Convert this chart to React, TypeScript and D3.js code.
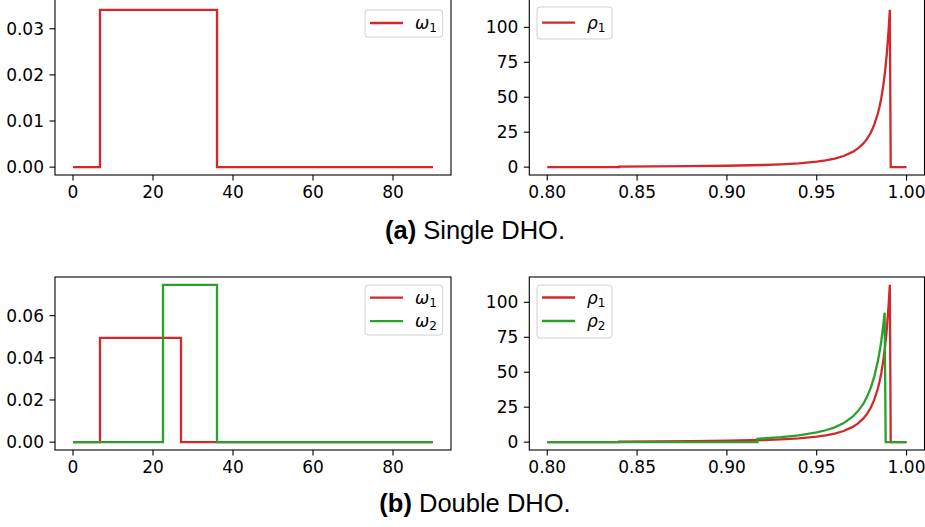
import * as React from "react";
import * as d3 from "d3";

const RED = "#d62728";
const GREEN = "#2ca02c";

// (a) Single DHO: omega step functions (value holds until next grid point)
const omegaGridSingle = [0, 6.75, 36, 90];
const omegaSingle = [0, 0.0341, 0, 0];

// (b) Double DHO
const omegaGridDouble1 = [0, 6.75, 27, 90];
const omegaDouble1 = [0, 0.0495, 0, 0];
const omegaGridDouble2 = [0, 22.5, 36, 90];
const omegaDouble2 = [0, 0.0746, 0, 0];

// rho densities
const rhoX1 = [0.8, 0.84, 0.84, 0.86, 0.88, 0.9, 0.92, 0.93, 0.94, 0.95, 0.955, 0.96, 0.965, 0.97, 0.973, 0.976, 0.978, 0.98, 0.982, 0.984, 0.985, 0.986, 0.987, 0.988, 0.989, 0.99, 0.9907, 0.9912, 1.0];
const rhoY1 = [0, 0, 0.38, 0.5, 0.68, 0.98, 1.53, 1.99, 2.71, 3.91, 4.82, 6.11, 7.98, 10.9, 13.4, 17.0, 20.2, 24.4, 30.2, 38.2, 43.4, 49.8, 57.8, 67.8, 80.7, 97.7, 112.5, 0, 0];
const rhoX2 = [0.8, 0.917, 0.917, 0.92, 0.93, 0.94, 0.95, 0.955, 0.96, 0.965, 0.97, 0.973, 0.976, 0.978, 0.98, 0.982, 0.984, 0.985, 0.986, 0.987, 0.9878, 0.9884, 1.0];
const rhoY2 = [0, 0, 2.3, 2.6, 3.6, 4.9, 6.9, 8.5, 10.6, 13.6, 18.2, 22.2, 27.6, 32.4, 38.6, 46.7, 57.6, 64.6, 72.9, 83.0, 92.6, 0, 0];

const omegaTicksX = [0, 20, 40, 60, 80];
const rhoTicksX = [0.8, 0.85, 0.9, 0.95, 1.0];
const omegaTicksSingle = [0, 0.01, 0.02, 0.03];
const omegaTicksDouble = [0, 0.02, 0.04, 0.06];
const rhoTicksY = [0, 25, 50, 75, 100];

const captions = [
  { tag: "(a)", text: " Single DHO." },
  { tag: "(b)", text: " Double DHO." }
];

const TICK_FONT = "'DejaVu Sans', sans-serif";
const TICK_SIZE = 17;

function padded(lo, hi) {
  const p = (hi - lo) * 0.05;
  return [lo - p, hi + p];
}

function drawPanel(svg, opt) {
  const { left, right, top, bottom, series, xTicks, yTicks, xFmt, yFmt, step, legend } = opt;
  const allX = d3.merge(series.map(s => s.x));
  const allY = d3.merge(series.map(s => s.y));
  const x = d3.scaleLinear().domain(padded(d3.min(allX), d3.max(allX))).range([left, right]);
  const y = d3.scaleLinear().domain(padded(0, d3.max(allY))).range([bottom, top]);

  const g = svg.append("g");

  const line = d3.line()
    .x(d => x(d[0]))
    .y(d => y(d[1]))
    .curve(step ? d3.curveStepAfter : d3.curveLinear);

  series.forEach(s => {
    g.append("path")
      .attr("d", line(s.x.map((v, i) => [v, s.y[i]])))
      .attr("fill", "none")
      .attr("stroke", s.color)
      .attr("stroke-width", 2.3);
  });

  // frame (top row is cut off at the image edge)
  const frameTop = opt.clipTop ? top - 4 : top;
  g.append("rect")
    .attr("x", left).attr("y", frameTop)
    .attr("width", right - left).attr("height", bottom - frameTop)
    .attr("fill", "none").attr("stroke", "#000").attr("stroke-width", 1.1);

  // x ticks
  xTicks.forEach(t => {
    g.append("line").attr("x1", x(t)).attr("x2", x(t)).attr("y1", bottom).attr("y2", bottom + 5.5)
      .attr("stroke", "#000").attr("stroke-width", 1.1);
    g.append("text").attr("x", x(t)).attr("y", bottom + 22.8)
      .attr("text-anchor", "middle").attr("font-family", TICK_FONT).attr("font-size", TICK_SIZE)
      .attr("fill", "#000").text(xFmt(t));
  });
  // y ticks
  yTicks.forEach(t => {
    g.append("line").attr("x1", left - 5.5).attr("x2", left).attr("y1", y(t)).attr("y2", y(t))
      .attr("stroke", "#000").attr("stroke-width", 1.1);
    g.append("text").attr("x", left - 11).attr("y", y(t)).attr("dy", "0.36em")
      .attr("text-anchor", "end").attr("font-family", TICK_FONT).attr("font-size", TICK_SIZE)
      .attr("fill", "#000").text(yFmt(t));
  });

  // legend
  const lg = g.append("g");
  lg.append("rect")
    .attr("x", legend.x).attr("y", legend.y).attr("width", legend.w).attr("height", legend.h)
    .attr("rx", 3).attr("fill", "#fff").attr("fill-opacity", 0.8)
    .attr("stroke", "#d0d0d0").attr("stroke-width", 1);
  series.forEach((s, i) => {
    const ly = legend.y + legend.first + i * 23.5;
    lg.append("line")
      .attr("x1", legend.x + 5).attr("x2", legend.x + 38)
      .attr("y1", ly).attr("y2", ly)
      .attr("stroke", s.color).attr("stroke-width", 2.3);
    const txt = lg.append("text")
      .attr("x", legend.x + 50).attr("y", ly + 6)
      .attr("font-family", TICK_FONT).attr("font-size", TICK_SIZE).attr("fill", "#000");
    txt.append("tspan").attr("font-style", "italic").text(s.sym);
    txt.append("tspan").attr("font-size", 12).attr("dy", 3).text(s.sub);
  });
}

class DhoFigure extends React.Component {
  componentDidMount() {
    this.drawChart();
  }

  drawChart() {
    const svg = d3.select(this._rootNode)
      .append("svg")
      .attr("width", 925)
      .attr("height", 527)
      .style("position", "absolute")
      .style("left", 0)
      .style("top", 0)
      .style("background", "#fff");

    const L = { left: 55, right: 451 };
    const R = { left: 529.3, right: 924.5 };
    const rowA = { top: 2, bottom: 175 };
    const rowB = { top: 277, bottom: 450 };
    const f2 = d3.format(".2f");
    const f0 = d3.format("d");

    drawPanel(svg, {
      ...L, ...rowA, step: true, clipTop: true,
      series: [{ x: omegaGridSingle, y: omegaSingle, color: RED, sym: "ω", sub: "1" }],
      xTicks: omegaTicksX, yTicks: omegaTicksSingle, xFmt: f0, yFmt: f2,
      legend: { x: 365, y: 10, w: 77.7, h: 27, first: 13 }
    });
    drawPanel(svg, {
      ...R, ...rowA, step: false, clipTop: true,
      series: [{ x: rhoX1, y: rhoY1, color: RED, sym: "ρ", sub: "1" }],
      xTicks: rhoTicksX, yTicks: rhoTicksY, xFmt: f2, yFmt: f0,
      legend: { x: 537, y: 7, w: 75, h: 32, first: 15.7 }
    });
    drawPanel(svg, {
      ...L, ...rowB, step: true,
      series: [
        { x: omegaGridDouble1, y: omegaDouble1, color: RED, sym: "ω", sub: "1" },
        { x: omegaGridDouble2, y: omegaDouble2, color: GREEN, sym: "ω", sub: "2" }
      ],
      xTicks: omegaTicksX, yTicks: omegaTicksDouble, xFmt: f0, yFmt: f2,
      legend: { x: 365, y: 285, w: 77.7, h: 50, first: 12.7 }
    });
    drawPanel(svg, {
      ...R, ...rowB, step: false,
      series: [
        { x: rhoX1, y: rhoY1, color: RED, sym: "ρ", sub: "1" },
        { x: rhoX2, y: rhoY2, color: GREEN, sym: "ρ", sub: "2" }
      ],
      xTicks: rhoTicksX, yTicks: rhoTicksY, xFmt: f2, yFmt: f0,
      legend: { x: 537, y: 285, w: 75, h: 53, first: 12.5 }
    });

    // sub-figure captions
    const capY = [238.5, 512];
    captions.forEach((c, i) => {
      const t = svg.append("text")
        .attr("x", 475).attr("y", capY[i])
        .attr("text-anchor", "middle")
        .attr("font-family", "'Liberation Sans', Arial, sans-serif")
        .attr("font-size", 25.5).attr("fill", "#000");
      t.append("tspan").attr("font-weight", "bold").text(c.tag);
      t.append("tspan").text(c.text);
    });
  }

  shouldComponentUpdate() {
    return false;
  }

  _setRef(node) {
    this._rootNode = node;
  }

  render() {
    return <div ref={this._setRef.bind(this)} />;
  }
}

export default function App() {
  return <DhoFigure />;
}
